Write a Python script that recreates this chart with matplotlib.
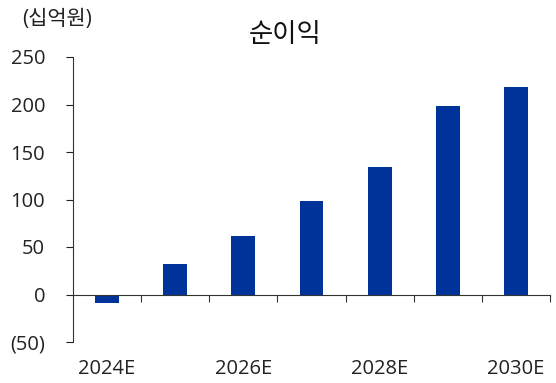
import matplotlib
matplotlib.use("Agg")
import matplotlib.pyplot as plt
from matplotlib.ticker import FuncFormatter

plt.rcParams['font.family'] = ['Open Sans', 'Noto Sans CJK KR', 'DejaVu Sans']

years = ["2024E", "2025E", "2026E", "2027E", "2028E", "2029E", "2030E"]
net_income = [-9, 32, 62, 98, 134, 198, 218]
yticks = [-50, 0, 50, 100, 150, 200, 250]

fig = plt.figure(figsize=(5.56, 3.83), dpi=100)
ax = fig.add_axes([73 / 556, 41 / 383, 477 / 556, 285 / 383])

x = list(range(len(years)))
ax.bar(x, net_income, width=0.35, color="#003399", zorder=2)

ax.set_xlim(-0.5, len(years) - 0.5)
ax.set_ylim(-50, 250)
ax.set_yticks(yticks)
ax.yaxis.set_major_formatter(FuncFormatter(lambda v, p: f"({-int(v)})" if v < 0 else f"{int(v)}"))
ax.tick_params(axis="y", direction="out", length=5, width=0.8, pad=15, labelsize=14.5, colors="#222222")

# zero line with ticks between categories
ax.spines["bottom"].set_position(("data", 0))
ax.spines["bottom"].set_color("#333333")
ax.spines["bottom"].set_linewidth(0.8)
ax.spines["bottom"].set_zorder(3)
ax.spines["top"].set_visible(False)
ax.spines["right"].set_visible(False)
ax.spines["left"].set_color("#333333")
ax.spines["left"].set_linewidth(0.8)
ax.set_xticks([i + 0.5 for i in x])
ax.set_xticklabels([])
ax.tick_params(axis="x", direction="out", length=5, width=0.8, colors="#333333")

# category labels along the bottom of the plot
sec = ax.secondary_xaxis(0)
sec.set_xticks(x[::2])
sec.set_xticklabels(years[::2])
sec.spines["bottom"].set_visible(False)
sec.tick_params(axis="x", length=0, pad=12, labelsize=14.5, labelcolor="#222222")

fig.text(285 / 556, 1 - 35 / 383, "순이익", ha="center", va="center", fontsize=19, color="#111111")
fig.text(57 / 556, 1 - 20 / 383, "(십억원)", ha="center", va="center", fontsize=15, color="#222222")

fig.savefig("out.png", dpi=100)
